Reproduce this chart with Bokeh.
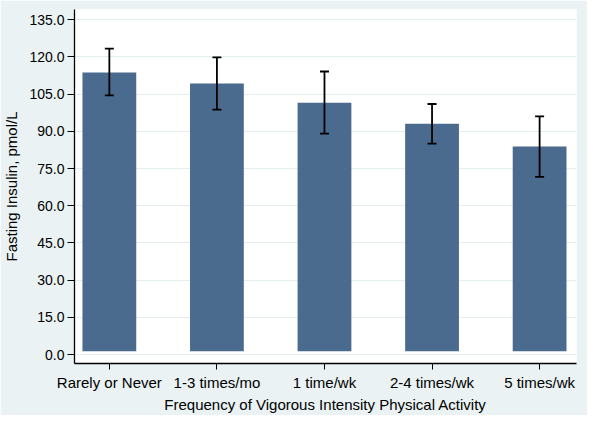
from bokeh.plotting import figure
from bokeh.models import ColumnDataSource, FixedTicker, Whisker, TeeHead
from bokeh.embed import file_html
from bokeh.resources import INLINE

categories = ["Rarely or Never", "1-3 times/mo", "1 time/wk", "2-4 times/wk", "5 times/wk"]
means = [113.7, 109.3, 101.5, 93.0, 83.9]
ci_upper = [123.3, 119.8, 114.1, 101.0, 96.0]
ci_lower = [104.5, 98.7, 89.1, 85.0, 71.6]
y_ticks = [0, 15, 30, 45, 60, 75, 90, 105, 120, 135]
y_tick_labels = ["0.0", "15.0", "30.0", "45.0", "60.0", "75.0", "90.0", "105.0", "120.0", "135.0"]
bar_base = 1.3

xs = list(range(len(categories)))
src = ColumnDataSource(dict(x=xs, top=means, upper=ci_upper, lower=ci_lower))

FONT = "Liberation Sans"
p = figure(width=587, height=415, output_backend="svg", toolbar_location=None,
           x_range=(-0.324, 4.343), y_range=(-3.6, 139.1),
           min_border_left=72, min_border_right=11, min_border_top=9, min_border_bottom=50)
p.background_fill_color = "white"
p.border_fill_color = "#EAF2F3"
p.outline_line_color = None

p.vbar(x="x", top="top", bottom=bar_base, width=0.5, source=src,
       fill_color="#4A6A8E", line_color=None)

w = Whisker(base="x", upper="upper", lower="lower", source=src, level="overlay",
            line_color="black", line_width=1.8,
            upper_head=TeeHead(size=9, line_color="black", line_width=1.8),
            lower_head=TeeHead(size=9, line_color="black", line_width=1.8))
p.add_layout(w)

p.xgrid.grid_line_color = None
p.ygrid.grid_line_color = "#E4EEF1"
p.ygrid.grid_line_width = 1
p.ygrid.ticker = FixedTicker(ticks=y_ticks)

p.xaxis.ticker = FixedTicker(ticks=xs)
p.xaxis.major_label_overrides = {i: c for i, c in zip(xs, categories)}
p.yaxis.ticker = FixedTicker(ticks=y_ticks)
p.yaxis.major_label_overrides = {t: l for t, l in zip(y_ticks, y_tick_labels)}

for ax in (p.xaxis[0], p.yaxis[0]):
    ax.axis_line_color = "black"
    ax.axis_line_width = 1.3
    ax.major_tick_line_color = "black"
    ax.major_tick_in = 0
    ax.minor_tick_line_color = None
    ax.major_label_text_font = FONT
    ax.major_label_text_color = "black"
    ax.axis_label_text_font = FONT
    ax.axis_label_text_font_style = "normal"
    ax.axis_label_text_color = "black"
    ax.axis_label_text_font_size = "15px"

p.xaxis.major_tick_out = 6
p.yaxis.major_tick_out = 7
p.xaxis.major_label_text_font_size = "15px"
p.yaxis.major_label_text_font_size = "14px"
p.xaxis.major_label_standoff = 4
p.yaxis.major_label_standoff = 3
p.xaxis.axis_label = "Frequency of Vigorous Intensity Physical Activity"
p.yaxis.axis_label = "Fasting Insulin, pmol/L"
p.xaxis.axis_label_standoff = 2
p.yaxis.axis_label_standoff = 6

open("out.html", "w").write(file_html(p, INLINE))
